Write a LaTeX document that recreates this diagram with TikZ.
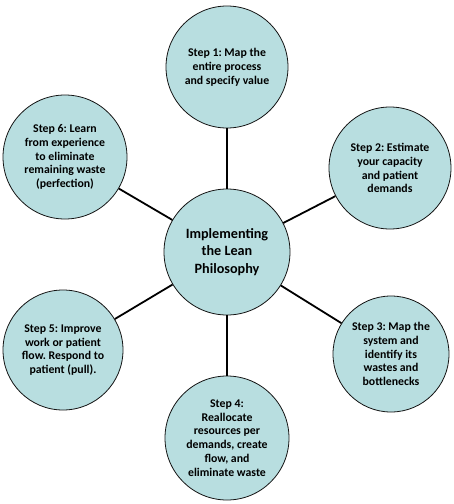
\documentclass[tikz,border=0pt]{standalone}
\usepackage{fontspec}
\setmainfont{Carlito}
\definecolor{bubble}{RGB}{184,222,224}
\definecolor{edge}{RGB}{20,20,20}
\begin{document}
\frenchspacing
\begin{tikzpicture}[x=1pt,y=-1pt,
  stepcircle/.style={circle,draw=edge,line width=0.8pt,fill=bubble,inner sep=0pt,
    minimum size=122pt,align=center,font=\fontsize{11.8}{13.8}\selectfont\bfseries},
  hubcircle/.style={circle,draw=edge,line width=0.8pt,fill=bubble,inner sep=0pt,
    minimum size=126pt,align=center,font=\fontsize{14.2}{17.5}\selectfont\bfseries},
  spoke/.style={draw=black,line width=1.8pt}]
\useasboundingbox (0,0) rectangle (454,504);
\fill[white] (0,0) rectangle (454,504);
\node[hubcircle] (hub) at (227,252) {Implementing\\the Lean\\Philosophy};
\node[stepcircle] (s1) at (227,67) {Step 1: Map the\\entire process\\and specify value};
\node[stepcircle] (s2) at (390,168) {Step 2: Estimate\\your capacity\\and patient\\demands};
\node[stepcircle,minimum size=116pt] (s3) at (391,354) {Step 3: Map the\\system and\\identify its\\wastes and\\bottlenecks};
\node[stepcircle,minimum size=124pt] (s4) at (227,438) {Step 4:\\Reallocate\\resources per\\demands, create\\flow, and\\eliminate waste};
\node[stepcircle,minimum size=120pt] (s5) at (63,350) {Step 5: Improve\\work or patient\\flow. Respond to\\patient (pull).};
\node[stepcircle,minimum size=124pt] (s6) at (65,157) {Step 6: Learn\\from experience\\to eliminate\\remaining waste\\(perfection)};
\draw[spoke] (hub) -- (s1);
\draw[spoke] (hub) -- (s2);
\draw[spoke] (hub) -- (s3);
\draw[spoke] (hub) -- (s4);
\draw[spoke] (hub) -- (s5);
\draw[spoke] (hub) -- (s6);
\end{tikzpicture}
\end{document}
